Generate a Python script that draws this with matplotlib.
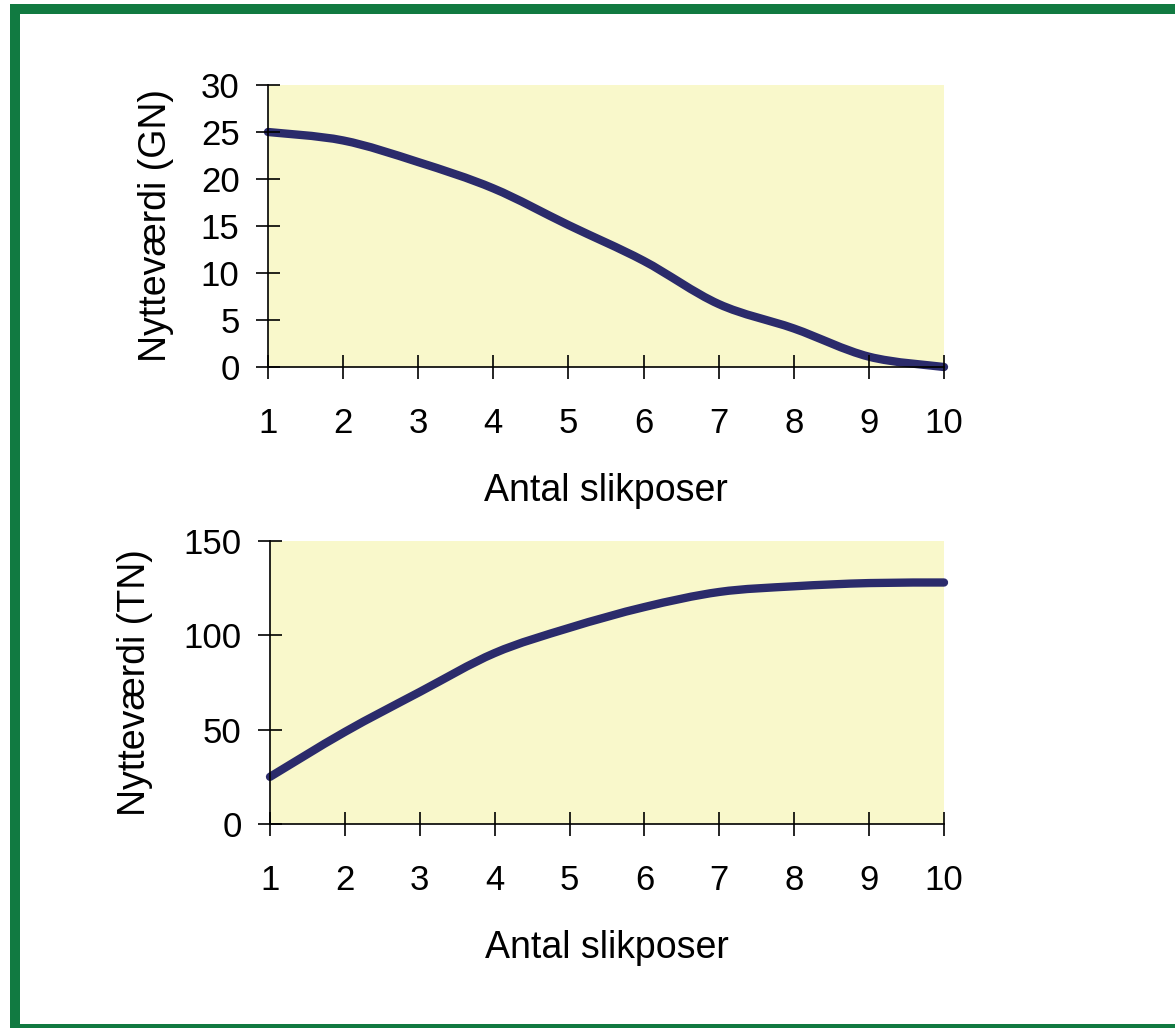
import matplotlib
matplotlib.use('Agg')
import matplotlib.pyplot as plt
from matplotlib.patches import Rectangle, PathPatch
from matplotlib.path import Path

plt.rcParams['font.family'] = ['Liberation Sans', 'DejaVu Sans']

antal = [1, 2, 3, 4, 5, 6, 7, 8, 9, 10]
gn = [25, 24.1, 21.8, 19.0, 15.1, 11.3, 6.7, 4.1, 1.1, 0]
tn = [25, 48.8, 70, 90.6, 104, 115, 123, 126, 127.7, 128]

bg = '#F9F8CB'
linec = '#2B2B6B'
green = '#117A41'

fig = plt.figure(figsize=(11.75, 10.28), dpi=100)

ax1 = fig.add_axes([268/1175, 1-367/1028, (944-268)/1175, (367-85)/1028])
ax2 = fig.add_axes([270/1175, 1-824/1028, (944-270)/1175, (824-541)/1028])


def smooth_line(ax, xs, ys):
    # excel-like smoothed line: bezier segments through the data points
    pts = list(zip(xs, ys))
    verts = [pts[0]]
    codes = [Path.MOVETO]
    n = len(pts)
    for i in range(n - 1):
        p0 = pts[max(i - 1, 0)]
        p1 = pts[i]
        p2 = pts[i + 1]
        p3 = pts[min(i + 2, n - 1)]
        c1 = (p1[0] + (p2[0] - p0[0]) / 6, p1[1] + (p2[1] - p0[1]) / 6)
        c2 = (p2[0] - (p3[0] - p1[0]) / 6, p2[1] - (p3[1] - p1[1]) / 6)
        verts += [c1, c2, p2]
        codes += [Path.CURVE4] * 3
    patch = PathPatch(Path(verts, codes), fill=False, edgecolor=linec, lw=6,
                      capstyle='round', joinstyle='round', clip_on=False)
    ax.add_patch(patch)


def style(ax, ymax, ystep, ylabel, ylabpad):
    ax.set_facecolor(bg)
    for s in ['top', 'right']:
        ax.spines[s].set_visible(False)
    for s in ['left', 'bottom']:
        ax.spines[s].set_linewidth(1.2)
    ax.set_xlim(1, 10)
    ax.set_ylim(0, ymax)
    ax.set_xticks(antal)
    ax.set_yticks(range(0, ymax + 1, ystep))
    ax.tick_params(axis='both', direction='inout', length=17, width=1.2, labelsize=25)
    ax.tick_params(axis='x', pad=20)
    ax.tick_params(axis='y', pad=12)
    ax.set_xlabel('Antal slikposer', fontsize=27, labelpad=24)
    ax.set_ylabel(ylabel, fontsize=27, labelpad=ylabpad)


smooth_line(ax1, antal, gn)
style(ax1, 30, 5, 'Nytteværdi (GN)', 19)

smooth_line(ax2, antal, tn)
style(ax2, 150, 50, 'Nytteværdi (TN)', 22)

# green frame
fig.add_artist(Rectangle((15/1175, -1/1028), 1.2, 1 - 8/1028, transform=fig.transFigure,
                         fill=False, edgecolor=green, lw=7.2))

fig.savefig('out.png', dpi=100)
